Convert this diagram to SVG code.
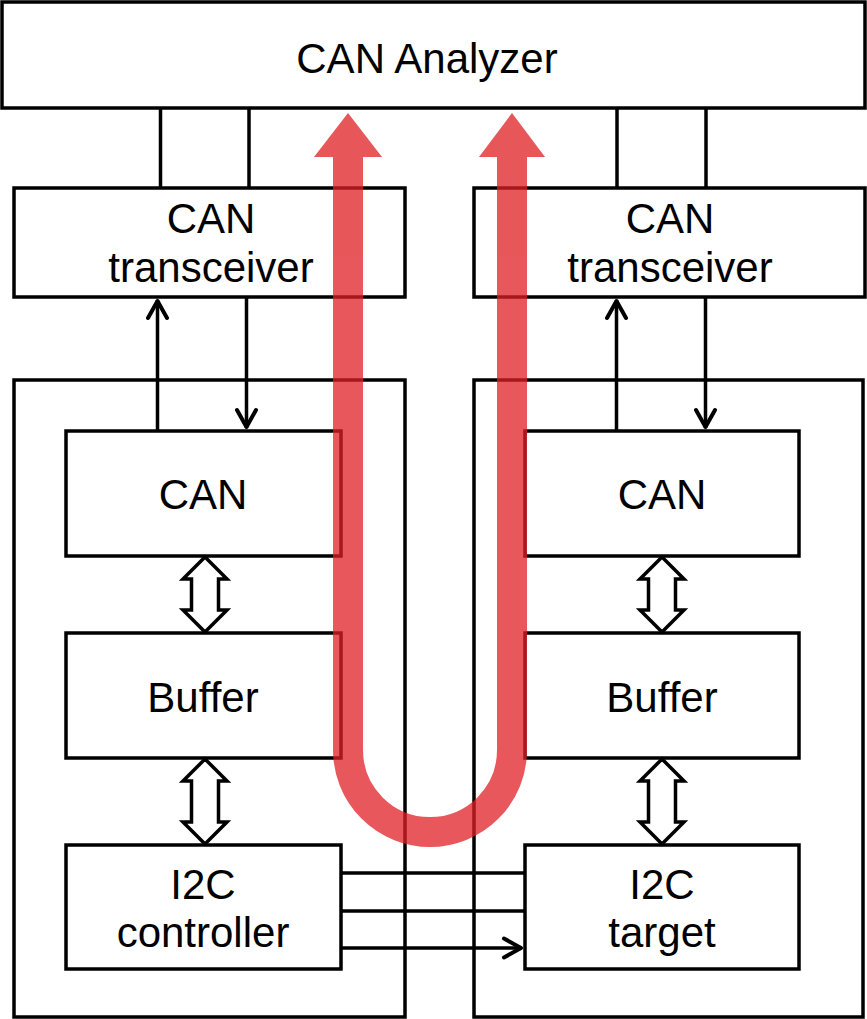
<svg xmlns="http://www.w3.org/2000/svg" width="867" height="1019" viewBox="0 0 867 1019">
<defs>
<style>
.box{fill:#fff;stroke:#000;stroke-width:3.5}
.frame{fill:none;stroke:#000;stroke-width:3.5}
.ln{fill:none;stroke:#000;stroke-width:3.5}
.dbl{fill:#fff;stroke:#000;stroke-width:3.5;stroke-linejoin:miter}
text{font-family:"Liberation Sans",Arial,sans-serif;font-size:42px;fill:#000;text-anchor:middle}
</style>
<marker id="ah" viewBox="0 0 24 24" refX="21" refY="12" markerWidth="24" markerHeight="24" markerUnits="userSpaceOnUse" orient="auto">
<polyline points="3,2.5 20,12 3,21.5" fill="none" stroke="#000" stroke-width="4" stroke-linecap="round" stroke-linejoin="round"/>
</marker>
</defs>
<rect width="867" height="1019" fill="#fff"/>
<g id="left-frame"><rect class="frame" x="14" y="380" width="391" height="637"/></g>
<g id="right-frame"><rect class="frame" x="474" y="380" width="389" height="637"/></g>
<g id="analyzer"><rect class="box" x="2" y="2" width="863" height="106"/><text x="427" y="73">CAN Analyzer</text></g>
<g id="tx-left"><rect class="box" x="14" y="188" width="391" height="109"/><text x="211" y="233">CAN</text><text x="211" y="282">transceiver</text></g>
<g id="tx-right"><rect class="box" x="474" y="188" width="391" height="109"/><text x="670" y="233">CAN</text><text x="670" y="282">transceiver</text></g>
<g id="can-left"><rect class="box" x="66" y="431" width="275" height="125"/><text x="203" y="509">CAN</text></g>
<g id="can-right"><rect class="box" x="525" y="431" width="274" height="125"/><text x="662" y="509">CAN</text></g>
<g id="buf-left"><rect class="box" x="66" y="633" width="275" height="125"/><text x="203" y="712">Buffer</text></g>
<g id="buf-right"><rect class="box" x="525" y="633" width="274" height="125"/><text x="662" y="712">Buffer</text></g>
<g id="i2c-controller"><rect class="box" x="66" y="845" width="275" height="124"/><text x="203" y="899">I2C</text><text x="203" y="947">controller</text></g>
<g id="i2c-target"><rect class="box" x="525" y="845" width="274" height="124"/><text x="662" y="899">I2C</text><text x="662" y="947">target</text></g>
<g id="connectors">
<line class="ln" x1="160.5" y1="108" x2="160.5" y2="188"/>
<line class="ln" x1="249" y1="108" x2="249" y2="188"/>
<line class="ln" x1="617" y1="108" x2="617" y2="188"/>
<line class="ln" x1="706" y1="108" x2="706" y2="188"/>
<line class="ln" x1="157.5" y1="431" x2="157.5" y2="300" marker-end="url(#ah)"/>
<line class="ln" x1="246.5" y1="297" x2="246.5" y2="428" marker-end="url(#ah)"/>
<line class="ln" x1="616.5" y1="431" x2="616.5" y2="300" marker-end="url(#ah)"/>
<line class="ln" x1="705.5" y1="297" x2="705.5" y2="428" marker-end="url(#ah)"/>
<line class="ln" x1="341" y1="873" x2="525" y2="873"/>
<line class="ln" x1="341" y1="911" x2="525" y2="911"/>
<line class="ln" x1="341" y1="948" x2="522" y2="948" marker-end="url(#ah)"/>
<polygon class="dbl" points="205,557 227,579 218.5,579 218.5,610 227,610 205,632 183,610 191.5,610 191.5,579 183,579"/>
<polygon class="dbl" points="205,759 227,781 218.5,781 218.5,822 227,822 205,844 183,822 191.5,822 191.5,781 183,781"/>
<polygon class="dbl" points="662,557 684,579 675.5,579 675.5,610 684,610 662,632 640,610 648.5,610 648.5,579 640,579"/>
<polygon class="dbl" points="662,759 684,781 675.5,781 675.5,822 684,822 662,844 640,822 648.5,822 648.5,781 640,781"/>
</g>
<g id="data-path" opacity="0.75">
<path d="M348,150 L348,750 A82,82 0 0 0 512,750 L512,150" fill="none" stroke="#DF1F24" stroke-width="30"/>
<polygon points="348,113 382,157 314,157" fill="#DF1F24"/>
<polygon points="512,113 545,157 479,157" fill="#DF1F24"/>
</g>
</svg>
